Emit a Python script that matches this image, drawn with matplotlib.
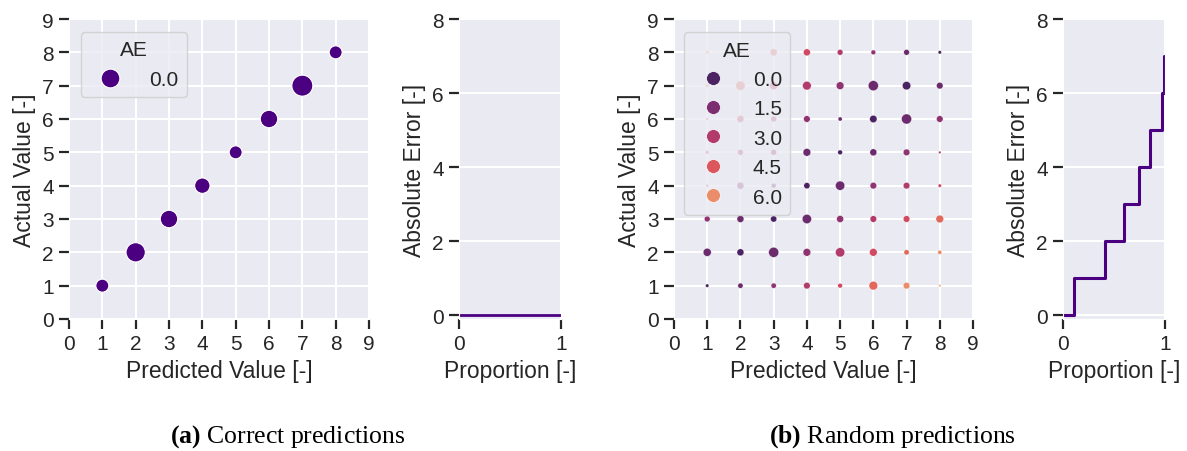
import numpy as np
import matplotlib
matplotlib.use("Agg")
import matplotlib.pyplot as plt
from matplotlib.lines import Line2D
import seaborn as sns

sns.set_style("darkgrid", {"xtick.bottom": True, "ytick.left": True})
plt.rcParams["font.family"] = ["Liberation Sans", "DejaVu Sans"]
plt.rcParams["mathtext.fontset"] = "custom"
plt.rcParams["mathtext.bf"] = "Liberation Serif:bold"
plt.rcParams["mathtext.rm"] = "Liberation Serif"
plt.rcParams["grid.linewidth"] = 1.5

# ---- data -------------------------------------------------------------
grid_vals = np.arange(1, 9)

# (a) correct predictions: predicted == actual, counts per point
correct_pred = [1, 2, 3, 4, 5, 6, 7, 8]
correct_actual = [1, 2, 3, 4, 5, 6, 7, 8]
correct_count = [1, 4, 3, 2, 1, 3, 5, 1]

# (b) random predictions: counts on an 8x8 grid, rows = actual 8..1, cols = predicted 1..8
random_count = np.array([
    [2, 1, 9, 9, 6, 4, 6, 2],      # actual 8
    [2, 16, 12, 14, 11, 19, 13, 8],  # actual 7
    [1, 9, 6, 8, 3, 10, 19, 8],    # actual 6
    [2, 6, 6, 11, 4, 9, 8, 1],     # actual 5
    [1, 9, 4, 7, 16, 8, 8, 2],     # actual 4
    [6, 9, 7, 16, 9, 8, 8, 11],    # actual 3
    [12, 9, 19, 11, 16, 11, 5, 3],  # actual 2
    [2, 5, 5, 8, 4, 14, 8, 1],     # actual 1
])
actual_rows = [8, 7, 6, 5, 4, 3, 2, 1]

legend_levels = [0.0, 1.5, 3.0, 4.5, 6.0]


def size_map(counts, dmin_px, dmax_px):
    counts = np.asarray(counts, dtype=float)
    amin = (dmin_px * 0.72) ** 2
    amax = (dmax_px * 0.72) ** 2
    span = counts.max() - counts.min()
    return amin + (counts - counts.min()) / span * (amax - amin)


def ecdf_steps(ae, weights):
    ae = np.asarray(ae)
    weights = np.asarray(weights, dtype=float)
    vals = np.unique(ae)
    w = np.array([weights[ae == v].sum() for v in vals])
    cum = np.cumsum(w) / w.sum()
    x = np.r_[0, cum]
    y = np.r_[vals, vals[-1]]
    return x, y


# ---- figure -----------------------------------------------------------
fig = plt.figure(figsize=(11.87, 4.52), dpi=100)
W, H = 1187, 452


def add_ax(l, r, t, b):
    return fig.add_axes([l / W, (H - b) / H, (r - l) / W, (b - t) / H])


ax1 = add_ax(69, 369, 20, 320)
ax2 = add_ax(459, 561, 20, 320)
ax3 = add_ax(674, 973, 20, 320)
ax4 = add_ax(1063, 1165, 20, 320)

tick_fs = 15
label_fs = 16.5
dark = "#262626"
line_col = "indigo"

for ax in (ax1, ax2, ax3, ax4):
    ax.tick_params(labelsize=tick_fs, length=7, width=1.6, color=dark,
                   labelcolor=dark, pad=4)

# (a) scatter
sa = size_map(correct_count, 13, 21)
ax1.scatter(correct_pred, correct_actual, s=sa, c=line_col,
            edgecolors="white", linewidths=0.8, zorder=3)

# (b) scatter
cmap = sns.color_palette("flare_r", as_cmap=True)
norm = matplotlib.colors.Normalize(0, 7)
px, py = np.meshgrid(grid_vals, actual_rows)
ae_b = np.abs(px - py)
sb = size_map(random_count.ravel(), 2.5, 10)
ax3.scatter(px.ravel(), py.ravel(), s=sb, c=ae_b.ravel(), cmap=cmap, norm=norm,
            edgecolors="white", linewidths=0.2, zorder=3)

for ax in (ax1, ax3):
    ax.set_xlim(0, 9)
    ax.set_ylim(0, 9)
    ax.set_xticks(range(10))
    ax.set_yticks(range(10))
    ax.set_xlabel("Predicted Value [-]", fontsize=label_fs, color=dark)
    ax.set_ylabel("Actual Value [-]", fontsize=label_fs, color=dark)

# legends
h_a = [Line2D([], [], ls="", marker="o", markersize=13.5, color=line_col,
              markeredgecolor="white", markeredgewidth=0.8)]
leg = ax1.legend(h_a, ["0.0"], title="AE", loc="upper left",
                 fontsize=tick_fs, title_fontsize=tick_fs,
                 bbox_to_anchor=(0.025, 0.97), borderaxespad=0.2,
                 handletextpad=0.9)
leg.get_frame().set_edgecolor("#cccccc")

h_b = [Line2D([], [], ls="", marker="o", markersize=10, color=cmap(norm(v)),
              markeredgecolor="white", markeredgewidth=0.5)
       for v in legend_levels]
leg = ax3.legend(h_b, [f"{v:.1f}" for v in legend_levels], title="AE",
                 loc="upper left", fontsize=tick_fs, title_fontsize=tick_fs,
                 bbox_to_anchor=(0.02, 0.97), borderaxespad=0.2,
                 handletextpad=0.9, labelspacing=0.5)
leg.get_frame().set_edgecolor("#cccccc")

# ECDF plots
ae_a = np.abs(np.array(correct_pred) - np.array(correct_actual))
xa, ya = ecdf_steps(ae_a, correct_count)
ax2.plot(xa, ya, drawstyle="steps-post", color=line_col, lw=2.0)

xb, yb = ecdf_steps(ae_b.ravel(), random_count.ravel())
ax4.plot(xb, yb, drawstyle="steps-post", color=line_col, lw=2.2)

for ax in (ax2, ax4):
    ax.set_xlim(0, 1)
    ax.set_ylim(-0.1, 8)
    ax.set_xticks([0, 1])
    ax.set_yticks([0, 2, 4, 6, 8])
    ax.set_xlabel("Proportion [-]", fontsize=label_fs, color=dark)
    ax.set_ylabel("Absolute Error [-]", fontsize=label_fs, color=dark)

# captions
cap_kw = dict(fontsize=18.5, family=["Liberation Serif", "DejaVu Serif"],
              ha="center", va="center", color="black")
fig.text(288 / W, 1 - 437 / H, r"$\mathbf{(a)}$ Correct predictions", **cap_kw)
fig.text(892 / W, 1 - 437 / H, r"$\mathbf{(b)}$ Random predictions", **cap_kw)

fig.savefig("out.png", dpi=100)
